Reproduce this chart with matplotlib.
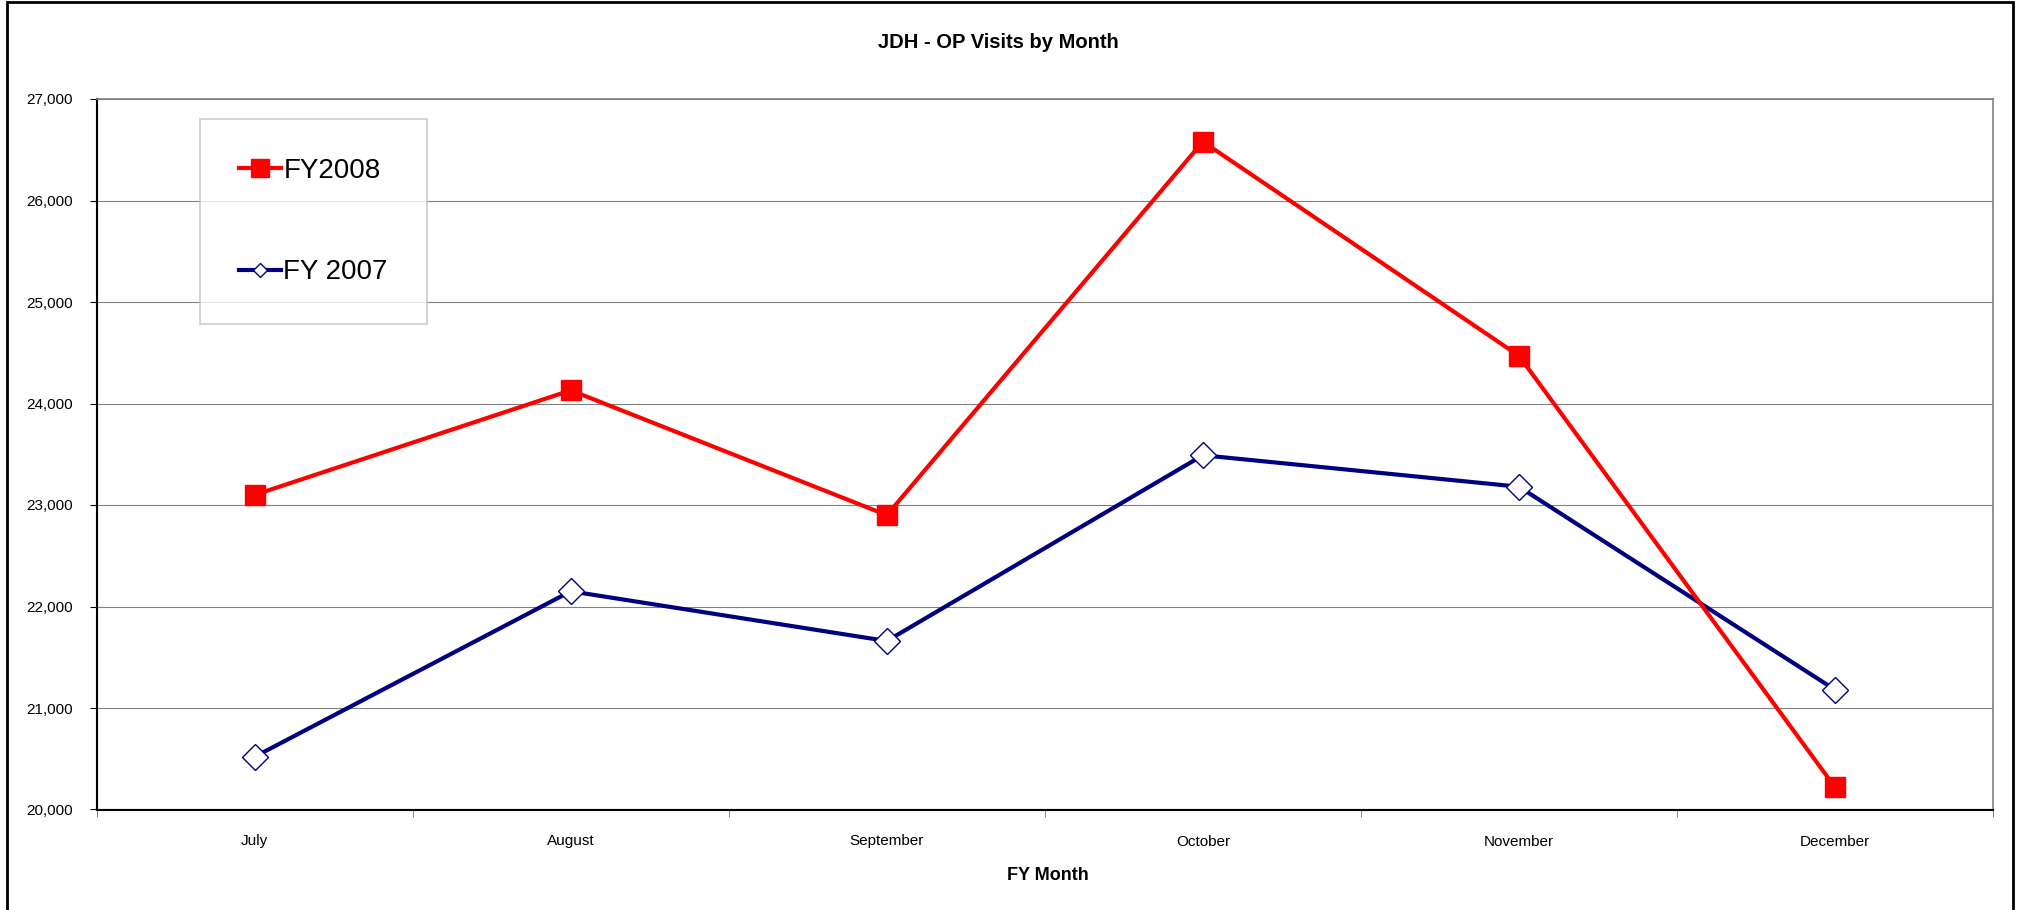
import numpy as np
import matplotlib
matplotlib.use("Agg")
import matplotlib.pyplot as plt
from matplotlib.patches import Rectangle

plt.rcParams['font.family'] = ['Liberation Sans', 'DejaVu Sans']

# data
months = ['July', 'August', 'September', 'October', 'November', 'December']
fy2008 = [23100, 24130, 22900, 26580, 24470, 20220]
fy2007 = [20520, 22150, 21660, 23490, 23180, 21180]
yticks = [20000, 21000, 22000, 23000, 24000, 25000, 26000, 27000]

W, H = 2021, 910
fig = plt.figure(figsize=(W / 100, H / 100), dpi=100)
ax = fig.add_axes([96.7 / W, 1 - 809.5 / H, (1993 - 96.7) / W, (809.5 - 99) / H])

x = np.arange(len(months))
ax.plot(x, fy2008, color='#FF0000', lw=3, marker='s', ms=15,
        mfc='#FF0000', mec='#FF0000', label='FY2008', zorder=4)
ax.plot(x, fy2007, color='#000080', lw=3, marker='D', ms=13,
        mfc='white', mec='#000080', mew=1, label='FY 2007', zorder=3)

ax.set_xlim(-0.5, len(months) - 0.5)
ax.set_ylim(yticks[0], yticks[-1])
ax.set_yticks(yticks)
ax.set_yticklabels(['{:,}'.format(v) for v in yticks])
ax.set_xticks(x)
ax.set_xticklabels(months)
ax.set_xticks(np.arange(len(months) + 1) - 0.5, minor=True)
ax.tick_params(axis='x', which='major', length=0, pad=18, labelsize=11)
ax.tick_params(axis='x', which='minor', length=5, width=0.7, color='#808080')
ax.tick_params(axis='y', length=5, width=0.8, pad=12, labelsize=11)

ax.grid(axis='y', color='#808080', lw=0.8)
ax.set_axisbelow(True)
for s in ['top', 'right']:
    ax.spines[s].set_color('#808080')
    ax.spines[s].set_linewidth(1.2)
for s in ['left', 'bottom']:
    ax.spines[s].set_color('black')
    ax.spines[s].set_linewidth(1.5)

fig.text(998 / W, 1 - 43 / H, 'JDH - OP Visits by Month', ha='center', va='center',
         fontsize=14.5, fontweight='bold')
fig.text(1048 / W, 1 - 876 / H, 'FY Month', ha='center', va='center',
         fontsize=13, fontweight='bold')

leg = ax.legend(loc='upper left', bbox_to_anchor=(200 / W, 1 - 119 / H),
                bbox_transform=fig.transFigure, borderaxespad=0, fontsize=20,
                frameon=True, fancybox=False, edgecolor='#C0C0C0',
                borderpad=1.4, labelspacing=2.72, handlelength=1.5, handletextpad=0.1)
leg.get_frame().set_linewidth(1.2)
for h, ms in zip(leg.legend_handles, [13, 7.5]):
    h.set_markersize(ms)

# outer chart border (open at the bottom edge)
fig.patches.append(Rectangle((7 / W, -0.05), (2013 - 7) / W, 1.05 - 1.5 / H,
                             transform=fig.transFigure, fill=False,
                             edgecolor='black', lw=2))

fig.savefig('out.png', dpi=100)
